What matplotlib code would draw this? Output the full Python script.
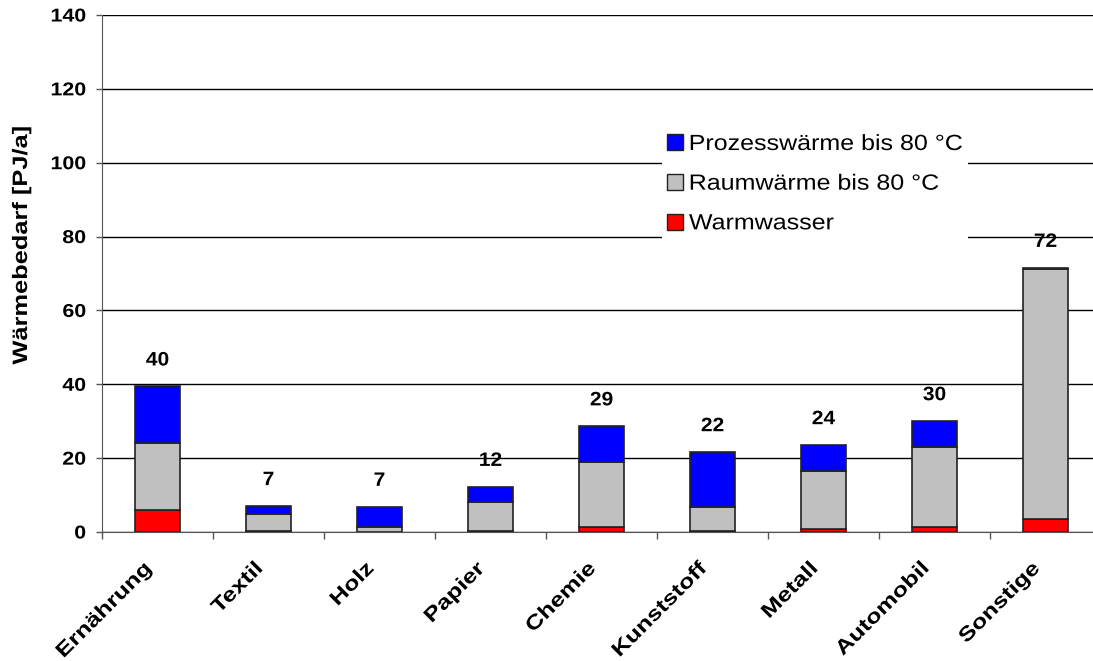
import matplotlib
matplotlib.use("Agg")
import matplotlib.pyplot as plt
import numpy as np
from matplotlib.patches import Patch, Rectangle
from matplotlib.patheffects import AbstractPathEffect
from matplotlib.transforms import Affine2D

categories = ["Ernährung", "Textil", "Holz", "Papier", "Chemie", "Kunststoff", "Metall", "Automobil", "Sonstige"]
warmwasser = [6.0, 0.2, 0.1, 0.2, 1.4, 0.3, 0.8, 1.4, 3.5]
raumwaerme = [18.0, 4.6, 1.3, 8.0, 17.6, 6.6, 15.8, 21.5, 67.6]
prozesswaerme = [15.5, 2.3, 5.5, 4.1, 9.7, 14.8, 7.0, 7.2, 0.5]
totals_labels = ["40", "7", "7", "12", "29", "22", "24", "30", "72"]
series_names = ["Prozesswärme bis 80 °C", "Raumwärme bis 80 °C", "Warmwasser"]
yticks = [0, 20, 40, 60, 80, 100, 120, 140]


class Stretch(AbstractPathEffect):
    """Stretch glyphs horizontally (along the text direction) about an anchor."""
    def __init__(self, sx, frac):
        super().__init__()
        self.sx = sx
        self.frac = frac

    def draw_path(self, renderer, gc, tpath, affine, rgbFace=None):
        ext = tpath.get_extents()
        cx = ext.x0 + self.frac * (ext.x1 - ext.x0)
        t = Affine2D().translate(-cx, 0).scale(self.sx, 1).translate(cx, 0) + affine
        renderer.draw_path(gc, tpath, t, rgbFace)


plt.rcParams['font.family'] = ['Liberation Sans', 'DejaVu Sans']

W, H = 1093, 661
fig = plt.figure(figsize=(W/100, H/100), dpi=100)
ax = fig.add_axes([102/W, (H-532)/H, (1101-102)/W, (532-15)/H])

x = np.arange(len(categories))
bw = 0.41
ww = np.array(warmwasser)
rw = np.array(raumwaerme)
pw = np.array(prozesswaerme)
ec = "#222222"
ax.bar(x, ww, bw, color="#FF0000", edgecolor=ec, linewidth=1.2, zorder=3)
ax.bar(x, rw, bw, bottom=ww, color="#C0C0C0", edgecolor=ec, linewidth=1.2, zorder=3)
ax.bar(x, pw, bw, bottom=ww+rw, color="#0000FF", edgecolor=ec, linewidth=1.2, zorder=3)

tot = ww + rw + pw
for xi, t, lab in zip(x, tot, totals_labels):
    ax.annotate(lab, (xi, t), xytext=(0, 12), textcoords="offset points",
                ha="center", va="bottom", fontsize=14, fontweight="bold",
                path_effects=[Stretch(1.08, 0.5)])

ax.set_xlim(-0.5, len(categories)-0.5)
ax.set_ylim(0, 140)
ax.set_yticks(yticks)
ax.set_yticklabels([str(v) for v in yticks], fontsize=13.4, fontweight="bold")
for lab in ax.get_yticklabels():
    lab.set_path_effects([Stretch(1.15, 1.0)])
ax.yaxis.grid(True, color="black", linewidth=1.0, zorder=0)
ax.set_axisbelow(True)

ax.set_xticks(np.arange(len(categories)+1) - 0.5)
ax.set_xticklabels([])
ax.tick_params(axis="x", length=5, color="#555555", width=1)
ax.tick_params(axis="y", length=4.3, color="#555555", width=1, pad=7.2)
for xi, c in zip(x, categories):
    ax.text(xi - 0.14, -7.3, c, rotation=45, ha="right", va="top", rotation_mode="anchor",
            fontsize=14.5, fontweight="bold", transform=ax.transData,
            path_effects=[Stretch(1.24, 1.0)])

for s in ["top", "right"]:
    ax.spines[s].set_visible(False)
ax.spines["left"].set_color("#555555")
ax.spines["bottom"].set_color("#555555")

ylab = ax.set_ylabel("Wärmebedarf [PJ/a]", fontsize=15, fontweight="bold")
ax.yaxis.set_label_coords((31-102)/(1101-102), (532-245)/517)
ylab.set_path_effects([Stretch(1.22, 0.5)])

# white background behind legend (covers grid lines)
ax.add_patch(Rectangle(((662-102)/(1101-102), (532-246)/517), (968-662)/(1101-102), (246-126)/517,
                       transform=ax.transAxes, facecolor="white", edgecolor="none", zorder=4))

handles = [Patch(facecolor="#0000FF", edgecolor=ec, label=series_names[0]),
           Patch(facecolor="#C0C0C0", edgecolor=ec, label=series_names[1]),
           Patch(facecolor="#FF0000", edgecolor=ec, label=series_names[2])]
leg = ax.legend(handles=handles, loc="upper left", bbox_to_anchor=((667-102)/(1101-102), (532-134)/517),
                frameon=False, fontsize=15.8,
                handlelength=0.73, handleheight=0.73, handletextpad=0.27, labelspacing=0.85,
                borderpad=0, borderaxespad=0)
leg.set_zorder(5)
for t in leg.get_texts():
    t.set_path_effects([Stretch(1.14, 0.0)])

fig.savefig("out.png", dpi=100)
